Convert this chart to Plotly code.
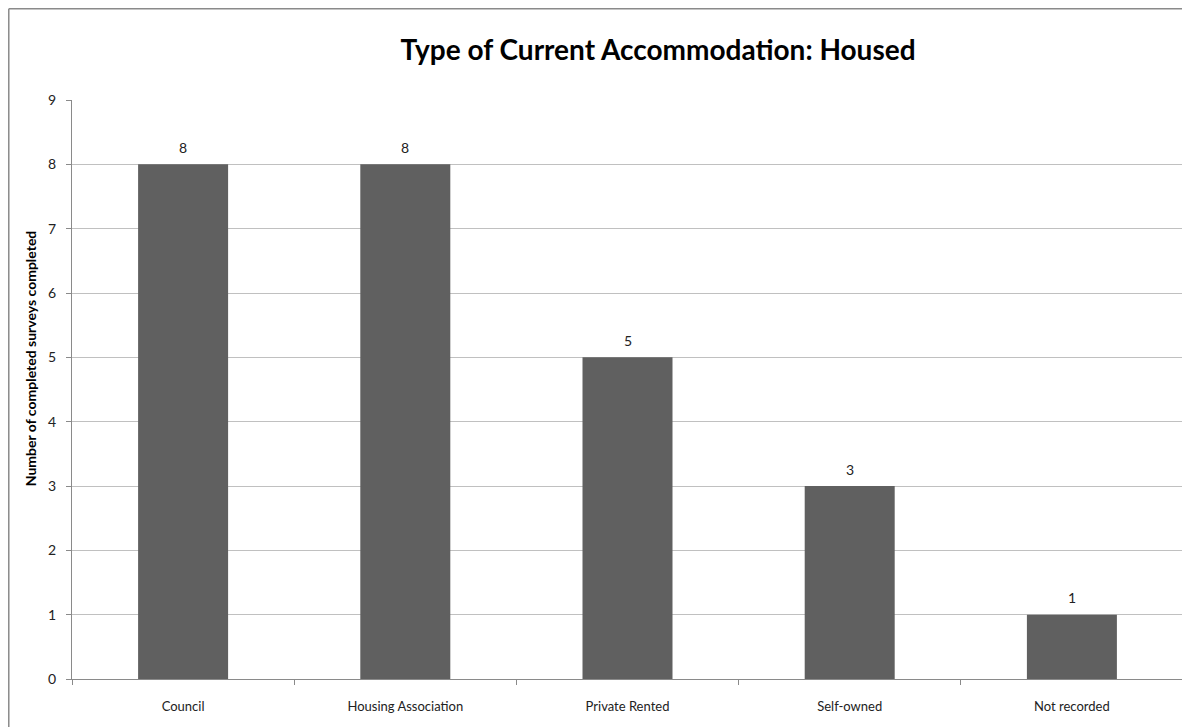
import plotly.graph_objects as go

categories = ["Council", "Housing Association", "Private Rented", "Self-owned", "Not recorded"]
counts = [8, 8, 5, 3, 1]
y_ticks = list(range(0, 10))

FONT = "Lato, Carlito, Calibri, sans-serif"

fig = go.Figure()

fig.add_trace(go.Bar(
    x=categories,
    y=counts,
    marker=dict(color="#606060", line=dict(width=0)),
    showlegend=False,
))

# étiquettes de valeur au-dessus des barres
for cat, val in zip(categories, counts):
    fig.add_annotation(
        x=cat, y=val, text=str(val),
        showarrow=False, yanchor="middle", yshift=17,
        font=dict(size=14, color="#222222", family=FONT),
    )

# titre de l'axe y
fig.add_annotation(
    xref="paper", yref="paper", x=-0.0378, y=0.554,
    text="<b>Number of completed surveys completed</b>",
    textangle=-90, showarrow=False,
    xanchor="center", yanchor="middle",
    font=dict(size=14, color="#000000", family=FONT),
)

# cadre gris (bord gauche et haut seulement visibles)
fig.add_shape(type="line", xref="paper", yref="paper",
              x0=-0.0569, x1=-0.0569, y0=-0.2, y1=1.1576,
              line=dict(color="#8a8a8a", width=1.5))
fig.add_shape(type="line", xref="paper", yref="paper",
              x0=-0.0569, x1=1.01, y0=1.1576, y1=1.1576,
              line=dict(color="#8a8a8a", width=1.5))

fig.update_layout(
    width=1182,
    height=719,
    margin=dict(l=64, r=7, t=92, b=48),
    paper_bgcolor="white",
    plot_bgcolor="white",
    bargap=0.595,
    font=dict(family=FONT, color="#222222", size=13),
    title=dict(
        text="<b>Type of Current Accommodation: Housed</b>",
        font=dict(size=28, color="#000000", family=FONT),
        x=0.55, xanchor="center",
        y=0.942, yanchor="middle",
    ),
    xaxis=dict(
        type="category",
        showline=True,
        linecolor="#8a8a8a",
        linewidth=1,
        ticks="outside",
        tickson="boundaries",
        ticklen=5,
        tickcolor="#8a8a8a",
        ticklabelstandoff=15,
        showgrid=False,
        tickfont=dict(size=13, family=FONT, color="#222222"),
    ),
    yaxis=dict(
        range=[0, 9],
        tickvals=y_ticks,
        showline=True,
        linecolor="#8a8a8a",
        linewidth=1,
        ticks="outside",
        ticklen=5,
        tickcolor="#8a8a8a",
        ticklabelstandoff=7,
        showgrid=True,
        gridcolor="#c0c0c0",
        gridwidth=1,
        zeroline=False,
        tickfont=dict(size=14, family=FONT, color="#222222"),
    ),
)

fig.write_html("out.html")
